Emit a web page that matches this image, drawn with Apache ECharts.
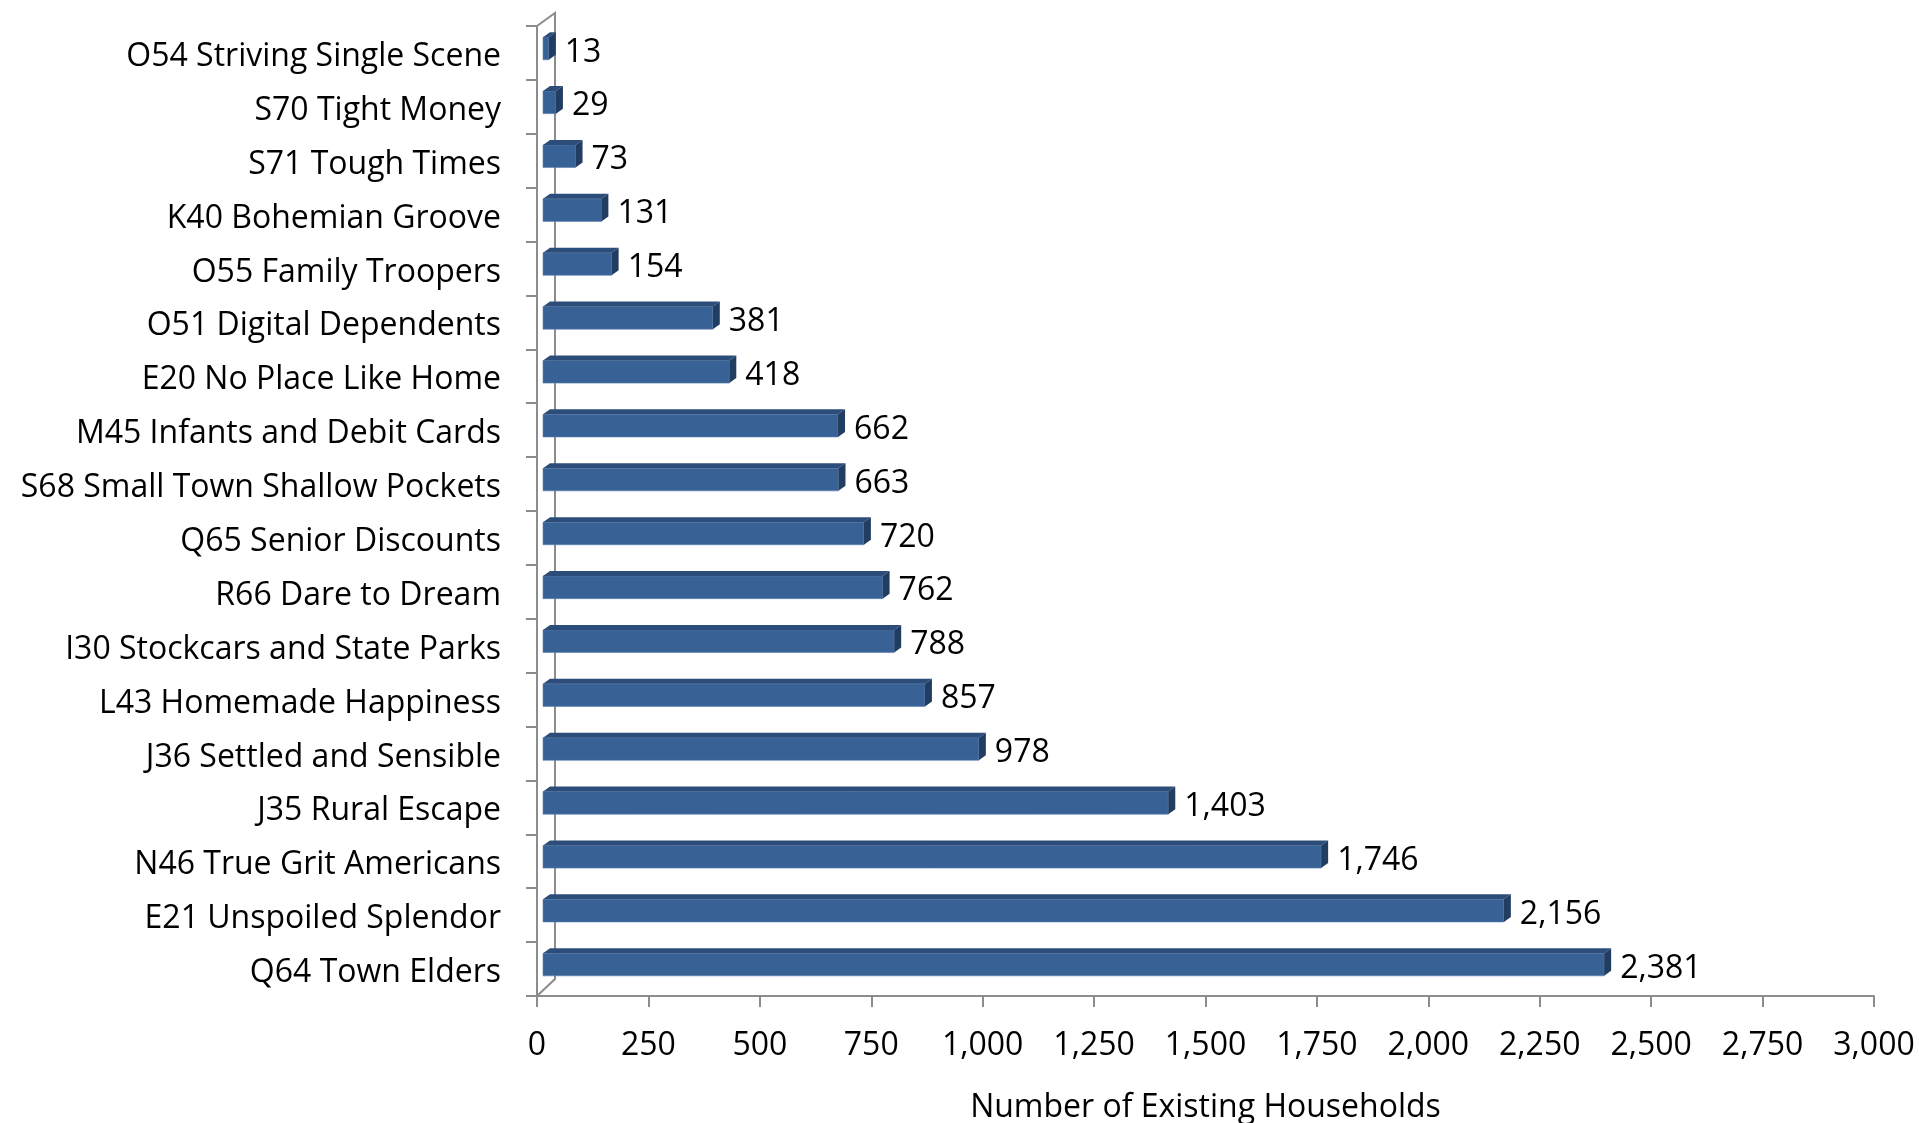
<!DOCTYPE html>
<html>
<head>
<meta charset="utf-8">
<script src="https://cdn.jsdelivr.net/npm/echarts@6/dist/echarts.min.js"></script>
<style>
html,body{margin:0;padding:0;background:#fff;}
#chart{width:1919px;height:1123px;}
</style>
</head>
<body>
<div id="chart"></div>
<script>
const categories = [
  "O54 Striving Single Scene",
  "S70 Tight Money",
  "S71 Tough Times",
  "K40 Bohemian Groove",
  "O55 Family Troopers",
  "O51 Digital Dependents",
  "E20 No Place Like Home",
  "M45 Infants and Debit Cards",
  "S68 Small Town Shallow Pockets",
  "Q65 Senior Discounts",
  "R66 Dare to Dream",
  "I30 Stockcars and State Parks",
  "L43 Homemade Happiness",
  "J36 Settled and Sensible",
  "J35 Rural Escape",
  "N46 True Grit Americans",
  "E21 Unspoiled Splendor",
  "Q64 Town Elders"
];
const households = [13, 29, 73, 131, 154, 381, 418, 662, 663, 720, 762, 788, 857, 978, 1403, 1746, 2156, 2381];
const xTicks = { min: 0, max: 3000, interval: 250 };
const axisTitle = "Number of Existing Households";

const FONT = "Open Sans";
const FS = 32;
const fmt = v => Number(v).toLocaleString("en-US");

const chart = echarts.init(document.getElementById("chart"), null, {renderer: "canvas"});

function renderBar(params, api) {
  const val = api.value(0);
  const idx = api.value(1);
  const s = api.coord([0, idx]);
  const e = api.coord([val, idx]);
  const band = api.size([0, 1])[1];
  const h = band * 0.42;
  const x0 = s[0] + 6;
  const x1 = e[0] + 6;
  const y0 = s[1] - 4.5 - h / 2;
  const dx = 7, dy = -5;
  return {
    type: "group",
    children: [
      { type: "rect", shape: { x: x0, y: y0, width: x1 - x0, height: h },
        style: { fill: "#386296", stroke: "#5a80b0", lineWidth: 0.6 } },
      { type: "polygon", shape: { points: [[x0, y0], [x1, y0], [x1 + dx, y0 + dy], [x0 + dx, y0 + dy]] },
        style: { fill: "#2c4d79" } },
      { type: "polygon", shape: { points: [[x1, y0], [x1 + dx, y0 + dy], [x1 + dx, y0 + h + dy], [x1, y0 + h]] },
        style: { fill: "#223d62" } },
      { type: "text", x: x1 + dx + 9, y: y0 + h / 2 + 4,
        style: { text: fmt(val), fill: "#000", font: FS + "px '" + FONT + "'", align: "left", verticalAlign: "middle" } }
    ]
  };
}

function renderWall(params, api) {
  const cs = params.coordSys;
  const x = cs.x, y = cs.y, h = cs.height;
  return {
    type: "polyline",
    z2: -1,
    shape: { points: [[x, y], [x + 18, y - 13], [x + 18, y + h - 17], [x, y + h]] },
    style: { stroke: "#8c8c8c", lineWidth: 2, fill: null }
  };
}

chart.setOption({
  backgroundColor: "#fff",
  animation: false,
  grid: { left: 537, right: 45, top: 26, bottom: 127, containLabel: false, outerBoundsMode: "none" },
  xAxis: {
    type: "value",
    min: xTicks.min, max: xTicks.max, interval: xTicks.interval,
    name: axisTitle,
    nameLocation: "middle",
    nameGap: 96,
    nameTextStyle: { fontFamily: FONT, fontSize: FS, color: "#000" },
    axisLine: { show: true, lineStyle: { color: "#8c8c8c", width: 2 } },
    axisTick: { show: true, length: 11, lineStyle: { color: "#8c8c8c", width: 2 } },
    axisLabel: { fontFamily: FONT, fontSize: FS, color: "#000", margin: 34, formatter: v => fmt(v) },
    splitLine: { show: false }
  },
  yAxis: {
    type: "category",
    data: categories,
    inverse: true,
    axisLine: { show: true, lineStyle: { color: "#8c8c8c", width: 2 } },
    axisTick: { show: true, length: 11, inside: false, lineStyle: { color: "#8c8c8c", width: 2 } },
    axisLabel: { fontFamily: FONT, fontSize: FS, color: "#000", margin: 36, verticalAlign: "top", lineHeight: 8 },
    splitLine: { show: false }
  },
  series: [
    {
      type: "custom",
      renderItem: renderWall,
      data: [[0, 0]],
      encode: { x: 0, y: 1 },
      silent: true,
      z: 1
    },
    {
      type: "custom",
      renderItem: renderBar,
      data: households.map((v, i) => [v, i]),
      encode: { x: 0, y: 1 },
      z: 2
    }
  ]
});
</script>
</body>
</html>
